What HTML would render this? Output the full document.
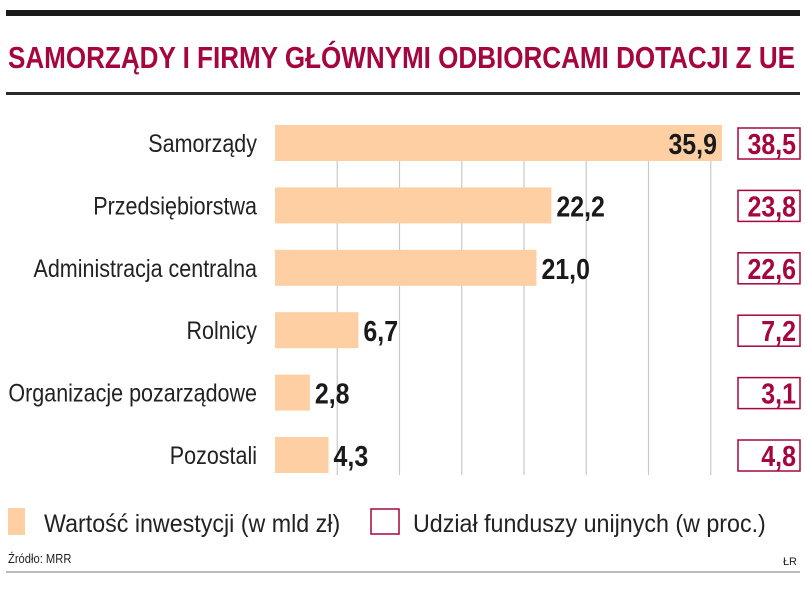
<!DOCTYPE html>
<html><head><meta charset="utf-8"><style>
html,body{margin:0;padding:0;background:#fff;}
svg{display:block;}
text{font-family:"Liberation Sans Narrow","Liberation Sans",sans-serif;}
</style></head><body>
<svg id="chart" width="805" height="595" viewBox="0 0 805 595" xmlns="http://www.w3.org/2000/svg">
<rect x="6" y="10" width="794" height="6" fill="#1a1a1a"/>
<text x="8" y="68" font-size="31" font-weight="bold" fill="#a5063f" textLength="787" lengthAdjust="spacingAndGlyphs">SAMORZĄDY I FIRMY GŁÓWNYMI ODBIORCAMI DOTACJI Z UE</text>
<rect x="6" y="92" width="794" height="3" fill="#2a2a2a"/>
<g id="grid"></g>
<g id="bars"></g>
<rect x="8" y="508" width="17" height="27" fill="#fdcfa3"/>
<text class="leg" x="44" y="532" font-size="25" fill="#222">Wartość inwestycji (w mld zł)</text>
<rect x="371" y="509" width="28" height="25" fill="#fff" stroke="#a5063f" stroke-width="1.5"/>
<text class="leg" x="413" y="532" font-size="25" fill="#222">Udział funduszy unijnych (w proc.)</text>
<text class="cmp" x="8" y="563" font-size="13" fill="#222">Źródło: MRR</text>
<text x="797" y="565" font-size="11" fill="#222" text-anchor="end">ŁR</text>
<rect x="6" y="571" width="794" height="2" fill="#bbb"/>
</svg>
<script>
const categories=["Samorządy","Przedsiębiorstwa","Administracja centralna","Rolnicy","Organizacje pozarządowe","Pozostali"];
const values=[35.9,22.2,21.0,6.7,2.8,4.3];
const shares=[38.5,23.8,22.6,7.2,3.1,4.8];
const gridTicks=[5,10,15,20,25,30,35];
const NS="http://www.w3.org/2000/svg";
const x0=275, pxPerUnit=12.45;
const xScale=v=>x0+v*pxPerUnit;
const yCenter=i=>143+i*62.4;
const fmt=v=>v.toFixed(1).replace('.',',');
function mk(tag,attrs,parent,txt){const e=document.createElementNS(NS,tag);for(const k in attrs)e.setAttribute(k,attrs[k]);if(txt!==undefined)e.textContent=txt;parent.appendChild(e);return e;}
const grid=document.getElementById('grid'), bars=document.getElementById('bars');
gridTicks.forEach(t=>{
  const l=mk('line',{x1:xScale(t),x2:xScale(t),y1:160,y2:475,stroke:'#c8c8c8','stroke-width':1.2},grid);
  
  
});
categories.forEach((c,i)=>{
  const yc=yCenter(i);
  const lab=mk('text',{x:257,y:yc+9,'font-size':25,fill:'#222','text-anchor':'end','class':'cmp'},bars,c);
  
  
  const w=values[i]*pxPerUnit;
  const r=mk('rect',{x:x0,y:yc-18,width:w,height:36,fill:'#fdcfa3'},bars);
  
  
  const inside=i===0;
  const vt=mk('text',{x:inside?xScale(values[i])-5:xScale(values[i])+5,y:yc+11,'font-size':29,'font-weight':'bold',fill:'#1a1a1a','text-anchor':inside?'end':'start','class':'cmp2'},bars,fmt(values[i]));
  
  
  const b=mk('rect',{x:738,y:yc-15,width:62,height:31,fill:'#fff',stroke:'#a5063f','stroke-width':1.5},bars);
  
  
  const st=mk('text',{x:796,y:yc+11,'font-size':29,'font-weight':'bold',fill:'#a5063f','text-anchor':'end','class':'cmp2'},bars,fmt(shares[i]));
  
  
});
function compress(sel,f){document.querySelectorAll(sel).forEach(t=>{const w=t.getComputedTextLength();t.setAttribute('textLength',(w*f).toFixed(1));t.setAttribute('lengthAdjust','spacingAndGlyphs');});}
compress('.cmp',0.86);
compress('.leg',0.93);
compress('.cmp2',0.86);
</script>
</body></html>
